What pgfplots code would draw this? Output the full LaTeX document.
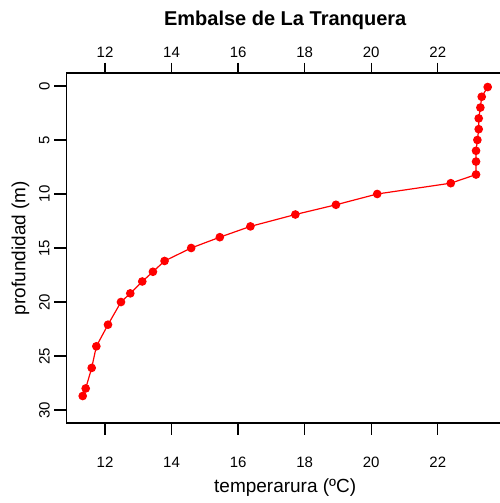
\documentclass[border=0pt]{standalone}
\usepackage{fontspec}
\setmainfont{Liberation Sans}
\usepackage{pgfplots}
\pgfplotsset{compat=1.18}
\begin{document}
\begin{tikzpicture}
\path[use as bounding box] (0pt,0pt) rectangle (500pt,503pt);
\pgfplotsset{
  common/.style={
    at={(66.4pt,80pt)}, anchor=south west, scale only axis,
    width=437.6pt, height=350pt,
    xmin=10.84, xmax=23.99, ymin=-1.2, ymax=31.2, y dir=reverse,
    xtick={12,14,...,22}, ytick={0,5,...,30},
    tick align=outside, major tick length=10pt,
    /pgf/number format/assume math mode=true,
    ticklabel style={font=\fontsize{15}{18}\selectfont},
    major tick style={draw=black, line width=1.2pt},
    axis line style={line width=1.2pt},
  }
}
\begin{axis}[common,
  hide y axis,
  xticklabel pos=upper,
  xticklabel style={anchor=center, yshift=11pt},
]
\end{axis}
\begin{axis}[common, clip=false,
  xticklabel style={anchor=center, yshift=-29pt},
  yticklabel style={rotate=90, anchor=center, yshift=12pt},
  title={Embalse de La Tranquera},
  title style={font=\bfseries\fontsize{20}{24}\selectfont, at={(axis description cs:0.5,1.134)}, anchor=center, yshift=0pt},
  xlabel={temperarura (ºC)},
  xlabel style={font=\fontsize{19}{22}\selectfont, at={(axis description cs:0.5,-0.1857)}, anchor=center, yshift=0pt},
  ylabel={profundidad (m)},
  ylabel style={font=\fontsize{19}{22}\selectfont, at={(axis description cs:-0.105,0.5)}, anchor=center},
]
\addplot[red, line width=1.2pt, mark=*, mark size=3.7pt, mark options={fill=red, draw=red}] coordinates {
(23.50,0.1) (23.32,1) (23.28,2) (23.23,3) (23.23,4) (23.19,5) (23.15,6) (23.15,7) (23.15,8.2)
(22.39,9) (20.18,10) (18.94,11) (17.72,11.9) (16.37,13) (15.45,14) (14.59,15) (13.79,16.2)
(13.44,17.2) (13.12,18.1) (12.76,19.2) (12.48,20) (12.09,22.1) (11.74,24.1) (11.60,26.1)
(11.42,28) (11.33,28.7)
};
\end{axis}
\foreach \xp in {105.0,171.6,238.1,304.7,371.2,437.8}{
  \draw[black, line width=1.3pt] (\xp pt,80pt) -- (\xp pt,68pt);
  \draw[black, line width=1.3pt] (\xp pt,430pt) -- (\xp pt,440pt);
}
\foreach \yp in {417.0,363.0,309.0,255.0,201.0,147.0,93.0}{
  \draw[black, line width=1.3pt] (66.4pt,\yp pt) -- (54pt,\yp pt);
}
\end{tikzpicture}
\end{document}
